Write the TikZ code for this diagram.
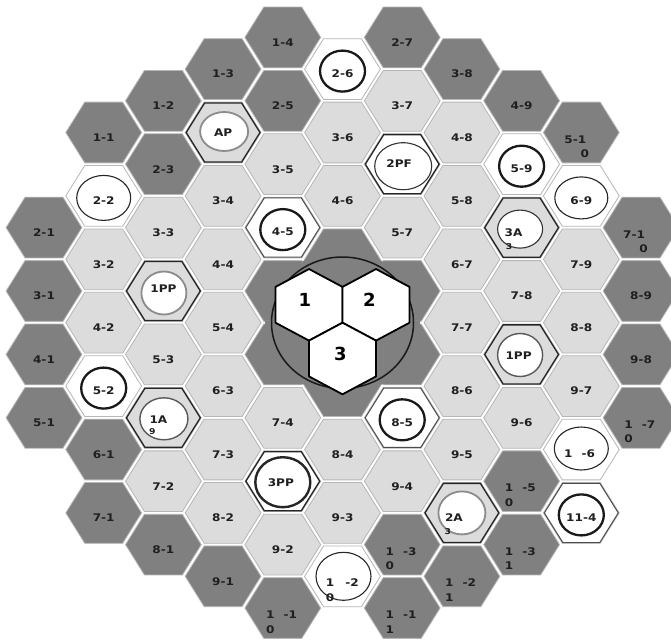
\documentclass[tikz,border=0pt]{standalone}
\usepackage{fontspec}
\newfontfamily\lblfont[FakeStretch=1.15]{DejaVu Sans}
\newfontfamily\numfont{DejaVu Sans}
\definecolor{dk}{RGB}{128,128,128}
\definecolor{lt}{RGB}{220,220,220}
\definecolor{edgec}{RGB}{182,182,182}
\tikzset{
  tdark/.style={fill=dk, draw=edgec, line width=0.8pt},
  tlight/.style={fill=lt, draw=edgec, line width=0.8pt},
  twhite/.style={fill=white, draw=edgec, line width=0.8pt},
  lbl/.style={font=\lblfont\bfseries\fontsize{10.5}{12}\selectfont, text=black!88, inner sep=0pt},
  sublbl/.style={font=\lblfont\bfseries\fontsize{8}{9}\selectfont, text=black!88, inner sep=0pt},
  bignum/.style={font=\numfont\bfseries\fontsize{18}{20}\selectfont, text=black, inner sep=0pt},
  hexline/.style={draw=black!85, line width=1.3pt},
  thickring/.style={draw=black!90, line width=2.3pt},
  thinring/.style={draw=black!85, line width=1.1pt},
  grayring/.style={draw=black!45, line width=1.8pt},
  midring/.style={draw=black!65, line width=1.4pt},
  blackring/.style={draw=black!80, line width=1.1pt},
  dblring/.style={draw=black!85, line width=2.4pt},
  chex/.style={fill=white, draw=black, line width=1.8pt, line join=round},
  gapfill/.style={draw=dk, line width=4.4pt},
  bigcircle/.style={fill=dk, draw=black!90, line width=1.5pt}
}
\newcommand\hxpos[2]{\pgfmathsetmacro\cx{44+59.7*(#1)}\pgfmathsetmacro\cy{132.5+31.7*(#2)}}
\newcommand\hxshape[4]{\path[#4, shift={(#1,#2)}, yscale=0.925] (0:#3) -- (60:#3) -- (120:#3) -- (180:#3) -- (240:#3) -- (300:#3) -- cycle;}
\newcommand\hxcell[4]{\hxpos{#1}{#2}\hxshape{\cx}{\cy}{37.9}{#3}\node[lbl] (L#1x#2) at (\cx,\cy+5) {#4};}
\newcommand\hxbroken[4]{\hxpos{#1}{#2}\hxshape{\cx}{\cy}{37.9}{tdark}%
  \node[lbl,anchor=base] (L#1x#2a) at (\cx-12.5,\cy+10.5) {1};%
  \node[lbl,anchor=base] (L#1x#2b) at (\cx+7.5,\cy+10.5) {#3};%
  \node[lbl,anchor=base] (L#1x#2c) at (\cx-12.5,\cy+25) {#4};}
\newcommand\hxring[6]{\hxpos{#1}{#2}\hxshape{\cx}{\cy}{37.9}{twhite}%
  \draw[#4] (\cx,\cy+2) ellipse [x radius=#5, y radius=#6];%
  \node[lbl] (L#1x#2) at (\cx,\cy+4.5) {#3};}
\newcommand\hxspec[8]{\hxpos{#1}{#2}\hxshape{\cx}{\cy}{37.9}{#3}\hxshape{\cx}{\cy}{36.9}{hexline}%
  \path[fill=white,#4] ({\cx+(#5)},{\cy+(#6)}) ellipse [x radius=#7, y radius=#8];}
\begin{document}
\begin{tikzpicture}[x=1pt,y=-1pt]
\useasboundingbox (0,0) rectangle (671,641);
\fill[white] (0,0) rectangle (671,641);
\begin{scope}
\clip (0,0) rectangle (671,641);
% dark border tiles
\foreach \kk/\mm/\lab in {0/3/2-1, 0/5/3-1, 0/7/4-1, 0/9/5-1, 1/0/1-1, 1/10/6-1, 1/12/7-1, 2/-1/1-2, 2/1/2-3, 2/13/8-1, 3/-2/1-3, 3/14/9-1, 4/-3/1-4, 4/-1/2-5, 6/-3/2-7, 7/-2/3-8, 8/-1/4-9, 10/5/8-9, 10/7/9-8}
  {\hxcell{\kk}{\mm}{tdark}{\lab}}
% light tiles
\foreach \kk/\mm/\lab in {1/4/3-2, 1/6/4-2, 2/3/3-3, 2/7/5-3, 2/11/7-2, 3/2/3-4, 3/4/4-4, 3/6/5-4, 3/8/6-3, 3/10/7-3, 3/12/8-2, 4/1/3-5, 4/9/7-4, 4/13/9-2, 5/0/3-6, 5/2/4-6, 5/10/8-4, 5/12/9-3, 6/-1/3-7, 6/3/5-7, 6/11/9-4, 7/0/4-8, 7/2/5-8, 7/4/6-7, 7/6/7-7, 7/8/8-6, 7/10/9-5, 8/5/7-8, 8/9/9-6, 9/4/7-9, 9/6/8-8, 9/8/9-7}
  {\hxcell{\kk}{\mm}{tlight}{\lab}}
% dark tiles with split labels
\foreach \kk/\mm/\rr/\dd in {4/15/-1/0, 6/13/-3/0, 6/15/-1/1, 7/14/-2/1, 8/11/-5/0, 8/13/-3/1, 10/9/-7/0}
  {\hxbroken{\kk}{\mm}{\rr}{\dd}}
\hxpos{9}{0}\hxshape{\cx}{\cy}{37.9}{tdark}
\node[lbl,anchor=base] (L9x0a) at (\cx-6,\cy+10.5) {5-1};
\node[lbl,anchor=base] (L9x0b) at (\cx+3.5,\cy+25) {0};
\hxpos{10}{3}\hxshape{\cx}{\cy}{37.9}{tdark}
\node[lbl,anchor=base] (L10x3a) at (\cx-7,\cy+10.5) {7-1};
\node[lbl,anchor=base] (L10x3b) at (\cx+2.5,\cy+25) {0};
% central dark flower
\foreach \kk/\mm in {4/5,4/7,5/4,5/6,5/8,6/5,6/7}{\hxpos{\kk}{\mm}\hxshape{\cx}{\cy}{37.9}{tdark}}
\begin{scope}[shift={(342.5,322.7)}, yscale=0.925]
  \foreach \aa in {0,60,...,300} \draw[gapfill] (\aa:39) -- (\aa:77.5);
\end{scope}
% white tiles with rings
\foreach \kk/\mm/\lab in {1/8/5-2, 4/3/4-5, 5/-2/2-6, 6/9/8-5, 8/1/5-9, 9/12/11-4}
  {\hxring{\kk}{\mm}{\lab}{thickring}{22.5}{20.5}}
\foreach \kk/\mm in {4/3, 6/9, 9/12}{\hxpos{\kk}{\mm}\hxshape{\cx}{\cy}{37}{draw=black!70, line width=1pt}}
\hxring{1}{2}{2-2}{thinring}{27}{22.5}
\hxring{9}{2}{6-9}{thinring}{26.5}{21}
\hxpos{9}{10}\hxshape{\cx}{\cy}{37.9}{twhite}
\draw[thinring] (\cx,\cy-1) ellipse [x radius=27, y radius=21.5];
\node[lbl,anchor=base] (L9x10a) at (\cx-13,\cy+8) {1};
\node[lbl,anchor=base] (L9x10b) at (\cx+7,\cy+8) {-6};
\hxpos{5}{14}\hxshape{\cx}{\cy}{37.9}{twhite}
\draw[thinring] (\cx+1,\cy) ellipse [x radius=27.5, y radius=24];
\node[lbl,anchor=base] (L5x14a) at (\cx-12.5,\cy+10.5) {1};
\node[lbl,anchor=base] (L5x14b) at (\cx+9.5,\cy+10.5) {-2};
\node[lbl,anchor=base] (L5x14c) at (\cx-12.5,\cy+25.5) {0};
% outlined special tiles
\hxspec{3}{0}{tlight}{grayring}{1}{-1}{24}{19.5}
\node[lbl] (AP) at (\cx,\cy) {AP};
\hxspec{6}{1}{twhite}{blackring}{1}{2}{28.5}{23.5}
\node[lbl] (PF2) at (\cx-3,\cy-1) {2PF};
\hxspec{2}{5}{tlight}{grayring}{0.5}{2}{22.5}{21.5}
\node[lbl] (PP1a) at (\cx,\cy-2) {1PP};
\hxspec{8}{7}{tlight}{midring}{-1.5}{0.6}{22.5}{21.5}
\node[lbl] (PP1b) at (\cx-3,\cy+1.5) {1PP};
\hxspec{4}{11}{twhite}{dblring}{0}{1}{27.5}{25}
\node[lbl] (PP3) at (\cx-2,\cy+1) {3PP};
\hxspec{8}{3}{tlight}{blackring}{-1.5}{1.5}{22.5}{19}
\node[lbl] (A3) at (\cx-8,\cy+5) {3A};
\node[sublbl] (A3s) at (\cx-12.5,\cy+19) {3};
\hxspec{2}{9}{tlight}{midring}{0.5}{1}{24}{21}
\node[lbl] (A1) at (\cx-5,\cy+2) {1A};
\node[sublbl] (A1s) at (\cx-11,\cy+14) {9};
\hxspec{7}{12}{tlight}{grayring}{0}{0}{23.5}{21.5}
\node[lbl] (A2) at (\cx-8,\cy+5) {2A};
\node[sublbl] (A2s) at (\cx-14,\cy+19) {3};
% centre circle and three hexes
\path[bigcircle] (342.5,322.7) ellipse [x radius=71, y radius=65.7];
\begin{scope}[shift={(309,304.8)}, yscale=0.925]
  \path[chex] (30:38.7) -- (90:38.7) -- (150:38.7) -- (210:38.7) -- (270:38.7) -- (330:38.7) -- cycle;
\end{scope}
\begin{scope}[shift={(376,304.8)}, yscale=0.925]
  \path[chex] (30:38.7) -- (90:38.7) -- (150:38.7) -- (210:38.7) -- (270:38.7) -- (330:38.7) -- cycle;
\end{scope}
\begin{scope}[shift={(342.5,358.5)}, yscale=0.925]
  \path[chex] (30:38.7) -- (90:38.7) -- (150:38.7) -- (210:38.7) -- (270:38.7) -- (330:38.7) -- cycle;
\end{scope}
\node[bignum] (C1) at (305,300) {1};
\node[bignum] (C2) at (369.5,300) {2};
\node[bignum] (C3) at (340.5,354) {3};
\end{scope}
\end{tikzpicture}
\end{document}
